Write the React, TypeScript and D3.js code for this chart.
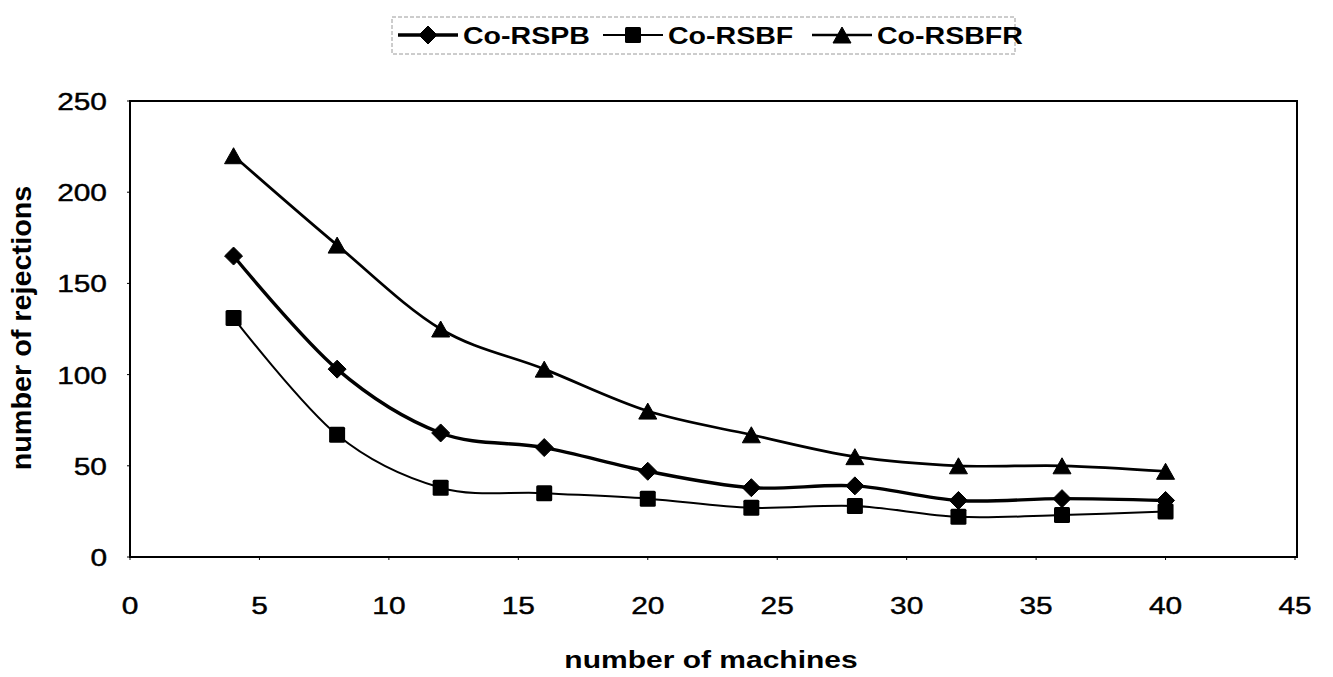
import React from "react";
import * as d3 from "d3";

// Number of machines on the x axis
const machines = [4, 8, 12, 16, 20, 24, 28, 32, 36, 40];

// Number of rejections per scheme
const coRSPB = [165, 103, 68, 60, 47, 38, 39, 31, 32, 31];
const coRSBF = [131, 67, 38, 35, 32, 27, 28, 22, 23, 25];
const coRSBFR = [220, 171, 125, 103, 80, 67, 55, 50, 50, 47];

const seriesNames = ["Co-RSPB", "Co-RSBF", "Co-RSBFR"];

const xTicks = [0, 5, 10, 15, 20, 25, 30, 35, 40, 45];
const yTicks = [0, 50, 100, 150, 200, 250];

const W = 1333;
const H = 677;
const left = 130;
const right = 1295;
const top = 101;
const bottom = 557;

const FONT = "'Liberation Sans', Arial, Helvetica, sans-serif";

type Shape = "diamond" | "square" | "triangle";

function Marker({ shape, cx, cy }: { shape: Shape; cx: number; cy: number }) {
  if (shape === "diamond") {
    const r = 9;
    return (
      <path
        d={`M${cx},${cy - r}L${cx + r},${cy}L${cx},${cy + r}L${cx - r},${cy}Z`}
        fill="#000"
        stroke="#000"
        strokeWidth={1}
        strokeLinejoin="round"
      />
    );
  }
  if (shape === "square") {
    const s = 8;
    return <rect x={cx - s} y={cy - s} width={2 * s} height={2 * s} fill="#000" rx={1.5} />;
  }
  const w = 9;
  const h = 8;
  return (
    <path
      d={`M${cx},${cy - h}L${cx + w},${cy + h}L${cx - w},${cy + h}Z`}
      fill="#000"
      stroke="#000"
      strokeWidth={1}
      strokeLinejoin="round"
    />
  );
}

export default function App() {
  const x = d3.scaleLinear().domain([0, 45]).range([left, right]);
  const y = d3.scaleLinear().domain([0, 250]).range([bottom, top]);

  const series = [
    { name: seriesNames[0], values: coRSPB, shape: "diamond" as Shape, width: 3.4 },
    { name: seriesNames[1], values: coRSBF, shape: "square" as Shape, width: 2 },
    { name: seriesNames[2], values: coRSBFR, shape: "triangle" as Shape, width: 2.7 },
  ];

  const line = d3
    .line<number>()
    .x((_, i) => x(machines[i]))
    .y((d) => y(d))
    .curve(d3.curveCardinal.tension(0));

  const legendX = [398, 603, 812];
  const legendY = 35;

  return (
    <svg
      width={W}
      height={H}
      style={{ position: "absolute", left: 0, top: 0, background: "#fff" }}
      fontFamily={FONT}
    >
      <rect x={0} y={0} width={W} height={H} fill="#fff" />

      {/* legend */}
      <rect x={392} y={17} width={623} height={37} fill="none" stroke="#9a9a9a" strokeWidth={1} strokeDasharray="4,2" />
      {series.map((s, i) => (
        <g key={s.name}>
          <line
            x1={legendX[i]}
            x2={legendX[i] + 60}
            y1={legendY}
            y2={legendY}
            stroke="#000"
            strokeWidth={s.width}
          />
          <Marker shape={s.shape} cx={legendX[i] + 30} cy={legendY} />
          <text
            transform={`translate(${legendX[i] + 65},${legendY + 9}) scale(1.19,1)`}
            fontSize={24}
            fontWeight="bold"
            fill="#000"
          >
            {s.name}
          </text>
        </g>
      ))}

      {/* plot frame */}
      <rect
        x={left}
        y={top}
        width={right + 2 - left}
        height={bottom - top}
        fill="none"
        stroke="#000"
        strokeWidth={2}
      />

      {/* y axis ticks & labels */}
      {yTicks.map((t) => (
        <g key={`y${t}`}>
          <line x1={left - 3} x2={left} y1={y(t)} y2={y(t)} stroke="#000" strokeWidth={1} />
          <text
            transform={`translate(107,${y(t) + 9}) scale(1.3,1)`}
            textAnchor="end"
            fontSize={23}
            fill="#000"
            stroke="#000"
            strokeWidth={0.4}
          >
            {t}
          </text>
        </g>
      ))}

      {/* x axis ticks & labels */}
      {xTicks.map((t) => (
        <g key={`x${t}`}>
          <line x1={x(t)} x2={x(t)} y1={bottom} y2={bottom + 3} stroke="#000" strokeWidth={1} />
          <text
            transform={`translate(${x(t)},614) scale(1.3,1)`}
            textAnchor="middle"
            fontSize={23}
            fill="#000"
            stroke="#000"
            strokeWidth={0.4}
          >
            {t}
          </text>
        </g>
      ))}

      {/* axis titles */}
      <text
        transform={`translate(711,668) scale(1.25,1)`}
        textAnchor="middle"
        fontSize={24}
        fontWeight="bold"
        fill="#000"
      >
        number of machines
      </text>
      <text
        transform={`translate(31,328) rotate(-90) scale(1.2,1.15)`}
        textAnchor="middle"
        fontSize={24}
        fontWeight="bold"
        fill="#000"
      >
        number of rejections
      </text>

      {/* series */}
      {series.map((s) => (
        <g key={`s-${s.name}`}>
          <path d={line(s.values) ?? ""} fill="none" stroke="#000" strokeWidth={s.width} />
          {s.values.map((v, i) => (
            <Marker key={i} shape={s.shape} cx={x(machines[i])} cy={y(v)} />
          ))}
        </g>
      ))}
    </svg>
  );
}
